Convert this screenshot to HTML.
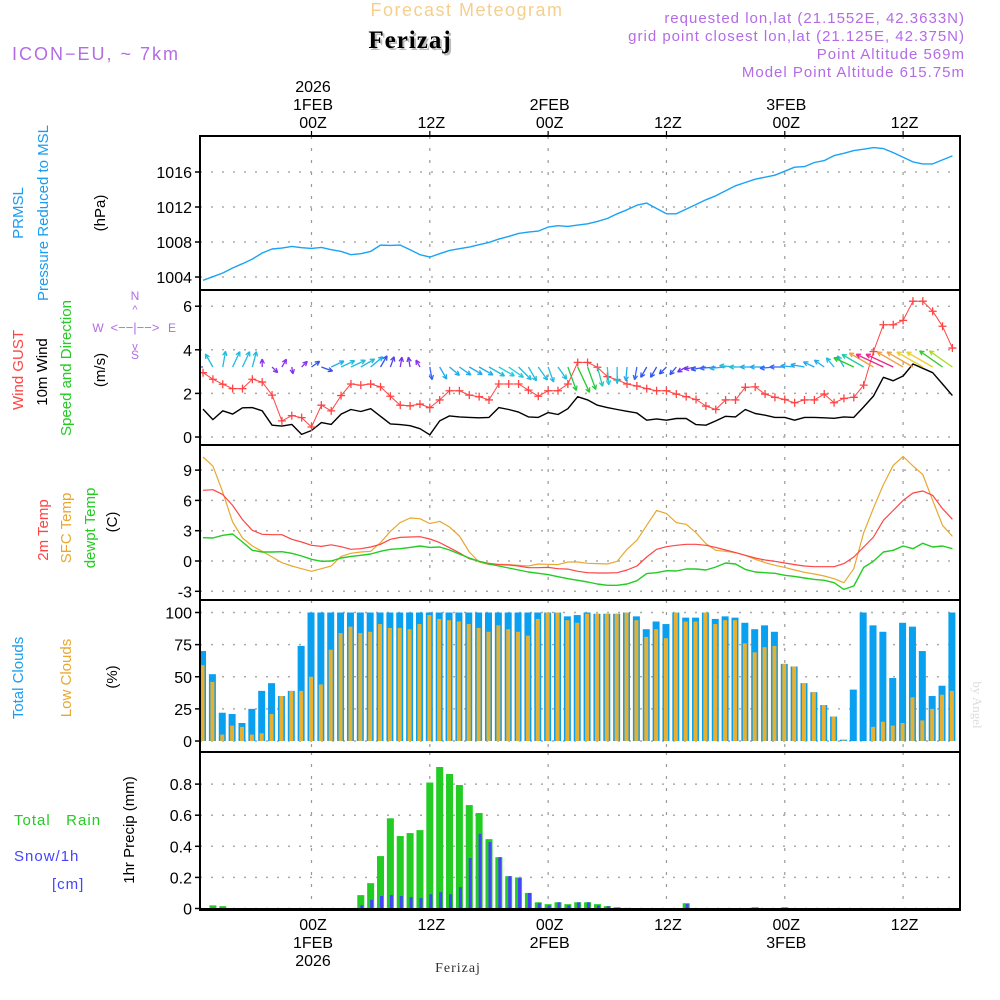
<!DOCTYPE html>
<html><head><meta charset="utf-8"><title>Ferizaj meteogram</title>
<style>
html,body{margin:0;padding:0;background:#fff;}
svg{display:block;font-family:"Liberation Sans",sans-serif;}
</style></head>
<body>
<svg id="chart" width="1000" height="1000" viewBox="0 0 1000 1000" xmlns="http://www.w3.org/2000/svg">
<g id="header">
<text x="467" y="16" text-anchor="middle" font-size="18" fill="#f5cf8e" letter-spacing="1.5">Forecast Meteogram</text>
<text x="412" y="50" text-anchor="middle" font-size="25" font-weight="bold" font-family="Liberation Serif, serif" fill="#bbb" letter-spacing="1">Ferizaj</text>
<text x="410" y="48" text-anchor="middle" font-size="25" font-weight="bold" font-family="Liberation Serif, serif" fill="#000" letter-spacing="1">Ferizaj</text>
<text x="12" y="60" font-size="18" fill="#b36be6" letter-spacing="2">ICON−EU, ~ 7km</text>
<text x="965" y="23" text-anchor="end" font-size="15" fill="#b36be6" letter-spacing="1">requested lon,lat (21.1552E, 42.3633N)</text>
<text x="965" y="41" text-anchor="end" font-size="15" fill="#b36be6" letter-spacing="1">grid point closest lon,lat (21.125E, 42.375N)</text>
<text x="965" y="59" text-anchor="end" font-size="15" fill="#b36be6" letter-spacing="1">Point Altitude 569m</text>
<text x="965" y="77" text-anchor="end" font-size="15" fill="#b36be6" letter-spacing="1">Model Point Altitude 615.75m</text>
</g>
<g id="grid"></g>
<g id="marks"></g>
<g id="frames"></g>
<g id="labels">
<text transform="translate(23,213) rotate(-90)" text-anchor="middle" font-size="15" fill="#1a9cf0">PRMSL</text>
<text transform="translate(48,213) rotate(-90)" text-anchor="middle" font-size="15" fill="#1a9cf0">Pressure Reduced to MSL</text>
<text transform="translate(105,213) rotate(-90)" text-anchor="middle" font-size="15" fill="#000">(hPa)</text>
<text transform="translate(23,370) rotate(-90)" text-anchor="middle" font-size="15" fill="#ff4444">Wind GUST</text>
<text transform="translate(47,372) rotate(-90)" text-anchor="middle" font-size="15" fill="#000">10m Wind</text>
<text transform="translate(71,368) rotate(-90)" text-anchor="middle" font-size="15" fill="#22cc22">Speed and Direction</text>
<text transform="translate(105,370) rotate(-90)" text-anchor="middle" font-size="15" fill="#000">(m/s)</text>
<g fill="#b36be6" font-size="12">
<text x="135" y="300" text-anchor="middle">N</text>
<text x="98" y="332" text-anchor="middle">W</text>
<text x="172" y="332" text-anchor="middle">E</text>
<text x="135" y="359" text-anchor="middle">S</text>
<text x="135" y="332" text-anchor="middle" font-size="13">&lt;−−|−−&gt;</text>
<text x="135" y="313" text-anchor="middle" font-size="11">^</text>
<text x="135" y="350" text-anchor="middle" font-size="11">v</text>
</g>
<text transform="translate(48,530) rotate(-90)" text-anchor="middle" font-size="15" fill="#ff4444">2m Temp</text>
<text transform="translate(71,528) rotate(-90)" text-anchor="middle" font-size="15" fill="#e8a830">SFC Temp</text>
<text transform="translate(95,528) rotate(-90)" text-anchor="middle" font-size="15" fill="#22cc22">dewpt Temp</text>
<text transform="translate(117,522) rotate(-90)" text-anchor="middle" font-size="15" fill="#000">(C)</text>
<text transform="translate(23,678) rotate(-90)" text-anchor="middle" font-size="15" fill="#1a9cf0">Total Clouds</text>
<text transform="translate(71,678) rotate(-90)" text-anchor="middle" font-size="15" fill="#e8a830">Low Clouds</text>
<text transform="translate(117,677) rotate(-90)" text-anchor="middle" font-size="15" fill="#000">(%)</text>
<text x="14" y="825" font-size="15" fill="#22cc22" letter-spacing="1">Total&#160;&#160;&#160;Rain</text>
<text x="14" y="861" font-size="15" fill="#4444ff" letter-spacing="1">Snow/1h</text>
<text x="52" y="889" font-size="15" fill="#4444ff" letter-spacing="1">[cm]</text>
<text transform="translate(134,830) rotate(-90)" text-anchor="middle" font-size="15" fill="#000">1hr Precip (mm)</text>
<text transform="translate(973,705) rotate(90)" text-anchor="middle" font-size="13" font-family="Liberation Serif, serif" fill="#ddd">by Angel</text>
<text x="458" y="972" text-anchor="middle" font-size="14" font-family="Liberation Serif, serif" fill="#333" letter-spacing="1">Ferizaj</text>
</g>
</svg>
<script>
// ---- data (hourly, t = -11 .. 65 hours relative to 01FEB 00Z) ----
const hours = [];
for (let h = -11; h <= 65; h++) hours.push(h);
const pressure = [1003.62,1004.04,1004.46,1005.03,1005.52,1006.05,1006.74,1007.2,1007.3,1007.5,1007.35,1007.27,1007.38,1007.12,1006.93,1006.55,1006.66,1006.93,1007.65,1007.61,1007.65,1007.12,1006.55,1006.28,1006.66,1007.04,1007.23,1007.42,1007.69,1007.95,1008.33,1008.64,1008.98,1009.13,1009.25,1009.7,1009.86,1009.78,1009.93,1010.08,1010.35,1010.69,1011.22,1011.68,1012.21,1012.44,1011.83,1011.22,1011.22,1011.76,1012.29,1012.82,1013.28,1013.85,1014.42,1014.8,1015.18,1015.41,1015.63,1016.09,1016.55,1016.62,1017.08,1017.3,1017.88,1018.14,1018.45,1018.6,1018.79,1018.68,1018.22,1017.69,1017.16,1016.93,1016.93,1017.38,1017.84];
const windSpeed = [1.28,0.8,1.2,1.05,1.34,1.35,1.2,0.54,0.5,0.58,0.12,0.3,0.66,0.58,1.05,1.26,1.17,1.3,0.95,0.6,0.57,0.52,0.38,0.1,0.74,0.97,0.92,0.9,0.88,0.9,1.35,1.26,1.14,0.92,0.9,1.12,1.03,1.3,1.85,1.7,1.46,1.35,1.26,1.18,1.1,0.77,0.83,0.77,0.85,0.85,0.57,0.54,0.74,0.95,0.92,1.26,1.08,1.0,0.9,0.9,0.77,0.9,0.9,0.88,0.86,0.92,0.9,1.38,1.88,2.74,2.58,2.8,3.35,3.15,2.95,2.43,1.9];
const windGust = [2.95,2.65,2.42,2.22,2.22,2.65,2.52,1.92,0.74,0.98,0.89,0.46,1.46,1.2,1.9,2.43,2.38,2.43,2.3,1.87,1.46,1.43,1.51,1.35,1.7,2.12,2.12,1.92,1.85,1.7,2.43,2.43,2.43,2.15,1.87,2.12,2.12,2.43,3.42,3.42,3.2,2.77,2.62,2.43,2.34,2.22,2.12,2.12,1.97,1.85,1.72,1.42,1.26,1.7,1.7,2.28,2.3,1.97,1.82,1.72,1.57,1.7,1.7,1.97,1.57,1.77,1.82,2.38,3.92,5.15,5.15,5.35,6.23,6.23,5.77,5.08,4.08];
const windDir = [180,120,80,65,65,75,90,-45,60,-80,45,35,-20,25,25,25,30,40,60,70,80,100,120,-80,-60,-40,-35,-30,-30,-30,-30,-35,-45,-60,-55,-70,-55,-70,-65,-70,-75,-85,-90,-95,-100,-120,-120,-135,-130,-150,190,190,185,185,175,180,180,180,185,180,175,170,155,145,130,120,155,150,150,155,155,150,150,150,150,145,145];
const arrowLen = [14,15,16,17,17,16,8,8,9,7,8,10,12,14,15,16,16,16,13,11,10,10,8,13,14,13,14,15,16,18,18,18,18,16,16,16,15,25,28,24,20,18,16,14,13,12,12,10,10,10,12,15,16,16,16,16,15,15,15,15,14,14,12,12,12,13,22,25,28,30,30,30,30,30,30,28,28];
const arrowColors = ["#3366ff","#22bbdd","#22bbdd","#22bbdd","#22bbdd","#22bbdd","#8833ee","#8833ee","#8833ee","#8833ee","#8833ee","#3355ee","#3355ee","#22aaee","#22bbdd","#22bbdd","#22bbdd","#22aaee","#3355ee","#5544ee","#7733ee","#7733ee","#8833ee","#3366ff","#22aaee","#22aaee","#22aaee","#22aaee","#22aaee","#22bbdd","#22ccdd","#22ccdd","#22bbdd","#22bbdd","#22bbdd","#22bbdd","#22bbdd","#22cc44","#22cc22","#22cc44","#22ccaa","#22ccdd","#22bbdd","#22aaee","#3366ff","#3355ee","#3355ee","#3355ee","#3355ee","#7733ee","#7733ee","#3355ee","#3366ff","#22aaee","#22bbdd","#22bbdd","#22aaee","#22aaee","#3366ff","#3366ff","#22aaee","#22aaee","#22aaee","#22aaee","#22bbdd","#22bbdd","#22cc22","#22ccaa","#f0a040","#ee2288","#ee2288","#f0a040","#f0a040","#e8d030","#e8d030","#33cc22","#aadd22"];
const temp2m = [7.0,7.06,6.57,5.5,4.1,3.04,2.64,2.6,2.6,2.15,1.88,1.55,1.45,1.6,1.42,1.16,1.22,1.39,1.65,2.15,2.34,2.38,2.41,2.18,1.82,1.32,0.8,0.23,-0.03,-0.23,-0.36,-0.4,-0.5,-0.66,-0.66,-0.63,-0.76,-0.8,-1.02,-1.16,-1.19,-1.19,-1.16,-0.89,-0.5,0.4,1.16,1.42,1.55,1.65,1.65,1.55,1.35,1.09,0.83,0.56,0.3,0.1,-0.03,-0.2,-0.36,-0.5,-0.56,-0.56,-0.56,-0.26,0.4,1.39,2.38,4.03,5.0,6.0,6.73,6.93,6.5,5.18,4.13];
const tempSfc = [10.3,9.4,6.8,3.86,2.28,1.49,0.96,0.4,-0.17,-0.5,-0.76,-1.02,-0.76,-0.5,0.46,0.76,0.89,0.96,1.82,2.94,3.8,4.26,4.19,3.7,3.93,3.37,2.48,0.89,-0.1,-0.36,-0.33,-0.36,-0.43,-0.5,-0.3,-0.33,-0.36,-0.1,-0.1,-0.23,-0.26,-0.3,-0.03,1.16,2.05,3.53,5.0,4.69,3.8,3.63,2.8,1.72,1.06,0.96,0.83,0.56,0.17,-0.17,-0.43,-0.63,-0.89,-1.12,-1.29,-1.49,-1.75,-2.15,-0.76,2.8,5.25,7.56,9.47,10.36,9.41,8.55,6.0,3.53,2.44];
const tempDew = [2.31,2.28,2.54,2.67,1.88,1.06,0.89,0.89,0.92,0.76,0.5,0.17,-0.03,0,0.3,0.46,0.56,0.69,0.96,1.16,1.22,1.35,1.49,1.35,1.39,1.09,0.69,0.3,-0.03,-0.3,-0.5,-0.69,-0.89,-1.09,-1.22,-1.35,-1.55,-1.75,-1.91,-2.08,-2.28,-2.41,-2.41,-2.28,-1.95,-1.25,-1.16,-0.96,-0.99,-0.79,-0.79,-0.89,-0.59,-0.2,-0.3,-0.83,-1.09,-1.16,-1.22,-1.42,-1.52,-1.68,-1.82,-1.91,-2.15,-2.81,-2.48,-0.63,-0.03,0.89,1.06,1.49,1.22,1.75,1.39,1.49,1.22];
const cloudTotal = [70,52,22,21,14,25,39,45,35,39,74,100,100,100,100,100,100,100,100,100,100,100,100,100,100,100,100,100,100,100,100,100,100,100,100,100,100,97,98,100,99,99,99,100,97,87,93,91,100,96,96,100,95,97,96,92,87,90,85,60,58,45,38,28,19,1,40,100,90,85,49,92,89,70,35,43,100];
const cloudLow = [59,46,5,12,11,5,6,21,35,39,39,50,44,71,84,89,84,85,91,88,88,87,91,98,95,94,93,91,88,85,90,87,85,82,95,100,100,94,92,99,99,99,99,100,94,81,87,80,100,93,93,100,91,94,94,76,69,73,74,60,58,45,38,28,19,0.5,0,0,11,15,12,14,34,16,25,36,39];
const precipTotal = [0,0.02,0.015,0,0,0,0,0,0,0,0,0,0,0,0,0,0.086,0.163,0.337,0.58,0.466,0.485,0.504,0.81,0.91,0.865,0.794,0.665,0.614,0.446,0.33,0.208,0.2,0.1,0.04,0.028,0.04,0.028,0.04,0.04,0.028,0.015,0.008,0.004,0,0,0,0,0,0.034,0,0,0,0,0,0,0.008,0,0,0.008,0,0,0,0,0,0,0,0,0,0,0,0,0,0,0,0,0];
const snow1h = [0,0,0,0,0,0,0,0,0,0,0,0,0,0,0,0,0.02,0.056,0.08,0.086,0.08,0.073,0.067,0.092,0.105,0.092,0.137,0.324,0.48,0.427,0.33,0.208,0.195,0.1,0.034,0.02,0.04,0.02,0.04,0.04,0.02,0.015,0.004,0.003,0,0,0,0,0.003,0.03,0,0,0,0,0,0,0,0,0,0,0,0,0,0,0,0,0,0,0,0,0,0,0,0,0,0,0];
const pressureTicks = [1004,1008,1012,1016];
const windTicks = [0,2,4,6];
const tempTicks = [-3,0,3,6,9];
const cloudTicks = [0,25,50,75,100];
const precipTicks = [0,0.2,0.4,0.6,0.8];
const precipTickLabels = ["0","0.2","0.4","0.6","0.8"];
const timeTickHours = [0,12,24,36,48,60];
const timeTickLabels = ["00Z","12Z","00Z","12Z","00Z","12Z"];
const dateLabels = ["1FEB","","2FEB","","3FEB",""];

// ---- axes ----
const X0 = 200, X1 = 960;
const xT = h => 311.5 + h * 9.86;
const yP = v => 277 - (v - 1004) * 8.75;
const yW = v => 437 - v * 21.8;
const yT = v => 561 - v * 10.1;
const yC = v => 741 - v * 1.285;
const yR = v => 908.5 - v * 155.5;
const panels = [[136,290],[290,445],[445,600],[600,752],[752,910]];

const NS = "http://www.w3.org/2000/svg";
function mk(tag, attrs, parent) {
  const e = document.createElementNS(NS, tag);
  for (const k in attrs) e.setAttribute(k, attrs[k]);
  parent.appendChild(e);
  return e;
}
const grid = document.getElementById('grid');
const marks = document.getElementById('marks');
const frames = document.getElementById('frames');
const labels = document.getElementById('labels');

timeTickHours.forEach(h => {
  panels.forEach(p => {
    const l = mk('line', {x1: xT(h), x2: xT(h), y1: p[0], y2: p[1], stroke: '#999', 'stroke-width': 1.2, 'stroke-dasharray': '3,9'}, grid);
    
    
  });
});
function hgrid(ticks, yf, tlabels, name, labelX) {
  ticks.forEach((v, i) => {
    const l = mk('line', {x1: X0, x2: X1, y1: yf(v), y2: yf(v), stroke: '#aaa', 'stroke-width': 1.5, 'stroke-dasharray': '2,9'}, grid);
    
    
    const tk = mk('line', {x1: X0 - 5, x2: X0, y1: yf(v), y2: yf(v), stroke: '#000', 'stroke-width': 1.5}, frames);
    
    
    const t = mk('text', {x: labelX, y: yf(v) + 6, 'text-anchor': 'end', 'font-size': 16, fill: '#000'}, labels);
    t.textContent = tlabels ? tlabels[i] : String(v);
    
    
  });
}
hgrid(pressureTicks, yP, null, 'pressure', 192);
hgrid(windTicks, yW, null, 'wind', 192);
hgrid(tempTicks, yT, null, 'temp', 192);
hgrid(cloudTicks, yC, null, 'cloud', 192);
hgrid(precipTicks, yR, precipTickLabels, 'precip', 192);

const defs = mk('defs', {}, marks);
const cp = mk('clipPath', {id: 'plotclip'}, defs);
mk('rect', {x: X0, y: 136, width: X1 - X0, height: 774}, cp);
const mg = mk('g', {'clip-path': 'url(#plotclip)'}, marks);

function line(vals, xf, yf, color, name, w) {
  const pts = vals.map((v, i) => xf(hours[i]).toFixed(1) + ',' + yf(v).toFixed(1)).join(' ');
  const pl = mk('polyline', {points: pts, fill: 'none', stroke: color, 'stroke-width': w || 1.4, 'stroke-linejoin': 'round'}, mg);
  
  
}
line(pressure, xT, yP, '#1aa3f5', 'pressure-line');
line(windSpeed, xT, yW, '#000', 'wind-speed-line');
line(windGust, xT, yW, '#ff4444', 'wind-gust-line', 1);
windGust.forEach((v, i) => {
  const x = xT(hours[i]), y = yW(v);
  const p = mk('path', {d: `M${x-4},${y}H${x+4}M${x},${y-4}V${y+4}`, stroke: '#ff4444', 'stroke-width': 1.3}, mg);
  
  
});
windDir.forEach((d, i) => {
  const x = xT(hours[i]), y = 367;
  const a = d * Math.PI / 180, L = arrowLen[i];
  const hx = x + L * Math.cos(a), hy = y - L * Math.sin(a);
  const h1 = a + Math.PI - 0.45, h2 = a + Math.PI + 0.45;
  const d2 = `M${x},${y}L${hx},${hy}M${hx},${hy}L${hx + 5*Math.cos(h1)},${hy - 5*Math.sin(h1)}M${hx},${hy}L${hx + 5*Math.cos(h2)},${hy - 5*Math.sin(h2)}`;
  const p = mk('path', {d: d2, stroke: arrowColors[i], 'stroke-width': 1.3, fill: 'none'}, mg);
  
  
});
line(tempSfc, xT, yT, '#e8a830', 'sfc-temp-line', 1.2);
line(temp2m, xT, yT, '#ff4444', 'temp-2m-line', 1.2);
line(tempDew, xT, yT, '#22cc22', 'dewpoint-line', 1.4);
cloudTotal.forEach((v, i) => {
  const x = xT(hours[i]);
  const b = mk('rect', {x: x - 4, y: yC(v), width: 7, height: Math.max(0, yC(0) - yC(v)), fill: '#0aa0f0'}, mg);
  
  
  const o = mk('rect', {x: x - 2.5, y: yC(cloudLow[i]), width: 4, height: Math.max(0, yC(0) - yC(cloudLow[i])), fill: '#e8b030'}, mg);
  
  
});
precipTotal.forEach((v, i) => {
  const x = xT(hours[i]);
  if (v > 0) {
    const b = mk('rect', {x: x - 3.5, y: yR(v), width: 7, height: yR(0) - yR(v), fill: '#22cc22'}, mg);
    
    
  }
  const s = snow1h[i];
  if (s > 0) {
    const b = mk('rect', {x: x - 0.5, y: yR(s), width: 3, height: yR(0) - yR(s), fill: '#4444ff'}, mg);
    
    
  }
});

panels.forEach(p => {
  const r = mk('rect', {x: X0, y: p[0], width: X1 - X0, height: p[1] - p[0], fill: 'none', stroke: '#000', 'stroke-width': 2}, frames);
  
  
});
mk('line', {x1: X0, x2: X1, y1: 909, y2: 909, stroke: '#000', 'stroke-width': 2}, frames);
timeTickHours.forEach((h, i) => {
  const x = xT(h) + 1.5;
  const tt = mk('line', {x1: x - 1.5, x2: x - 1.5, y1: 131, y2: 136, stroke: '#000', 'stroke-width': 1.2}, frames);
  
  
  const t = mk('text', {x: x, y: 128, 'text-anchor': 'middle', 'font-size': 16, fill: '#000'}, labels);
  t.textContent = timeTickLabels[i];
  
  
  const b = mk('text', {x: x, y: 930, 'text-anchor': 'middle', 'font-size': 16, fill: '#000'}, labels);
  b.textContent = timeTickLabels[i];
  
  
  if (dateLabels[i]) {
    const d = mk('text', {x: x, y: 110, 'text-anchor': 'middle', 'font-size': 16, fill: '#000'}, labels);
    d.textContent = dateLabels[i];
    
    
    const d2 = mk('text', {x: x, y: 948, 'text-anchor': 'middle', 'font-size': 16, fill: '#000'}, labels);
    d2.textContent = dateLabels[i];
    
    
  }
  if (i === 0) {
    const y1 = mk('text', {x: x, y: 92, 'text-anchor': 'middle', 'font-size': 16, fill: '#000'}, labels);
    y1.textContent = '2026';
    
    
    const y2 = mk('text', {x: x, y: 966, 'text-anchor': 'middle', 'font-size': 16, fill: '#000'}, labels);
    y2.textContent = '2026';
    
    
  }
});
</script>
</body></html>
